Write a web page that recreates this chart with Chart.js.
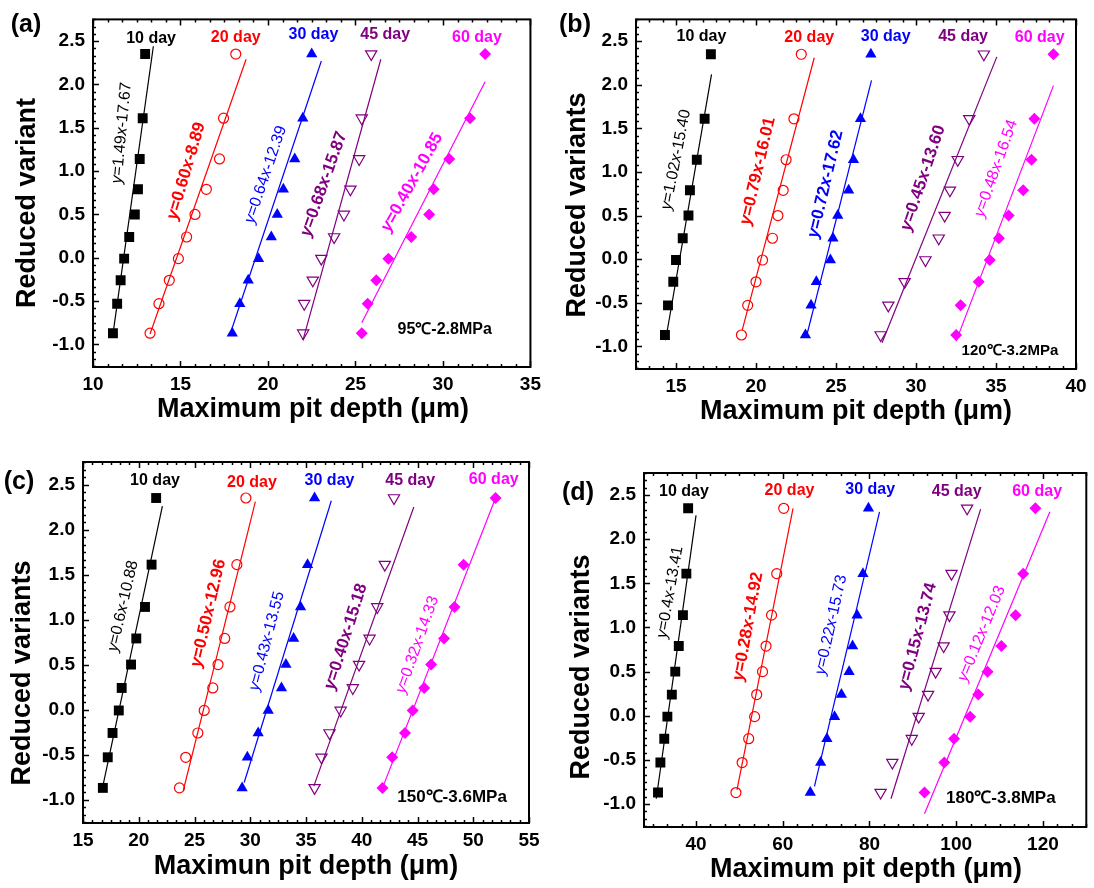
<!DOCTYPE html>
<html><head><meta charset="utf-8">
<script src="https://cdn.jsdelivr.net/npm/chart.js@4"></script>
<style>
body{margin:0;background:#fff;width:1094px;height:888px;position:relative;overflow:hidden}
canvas{position:absolute}
</style></head>
<body>
<canvas id="ca" width="547" height="440" style="left:0;top:0"></canvas>
<canvas id="cb" width="547" height="440" style="left:547px;top:0"></canvas>
<canvas id="cc" width="547" height="448" style="left:0;top:440px"></canvas>
<canvas id="cd" width="547" height="448" style="left:547px;top:440px"></canvas>
<script>
// ---------- shared data ----------
const reducedVariate = [-0.87, -0.53, -0.26, -0.01, 0.24, 0.50, 0.79, 1.14, 1.61, 2.35];
const dayLabels = ['10 day', '20 day', '30 day', '45 day', '60 day'];
const yTickValues = [-1.0, -0.5, 0.0, 0.5, 1.0, 1.5, 2.0, 2.5];

// ---------- (a) 95℃-2.8MPa ----------
const a_xTicks = [10, 15, 20, 25, 30, 35];
const a_d10 = [11.14, 11.38, 11.58, 11.78, 12.07, 12.39, 12.57, 12.67, 12.84, 12.98];
const a_d20 = [13.26, 13.77, 14.36, 14.88, 15.35, 15.83, 16.48, 17.23, 17.46, 18.16];
const a_d30 = [17.96, 18.39, 18.87, 19.46, 20.19, 20.53, 20.88, 21.53, 21.99, 22.50];
const a_d45 = [22.01, 22.07, 22.56, 23.05, 23.78, 24.34, 24.71, 25.21, 25.36, 25.90];
const a_d60 = [25.36, 25.70, 26.19, 26.88, 28.19, 29.21, 29.47, 30.36, 31.55, 32.41];
const a_fitX = [[11.14, 13.45], [13.26, 18.75], [17.92, 23.05], [22.00, 26.45], [25.36, 32.41]];
const a_fitY = [[-0.88, 2.44], [-0.88, 2.29], [-0.83, 2.27], [-0.95, 2.29], [-0.75, 2.03]];
const a_equations = ['y=1.49x-17.67', 'y=0.60x-8.89', 'y=0.64x-12.39', 'y=0.68x-15.87', 'y=0.40x-10.85'];

// ---------- (b) 120℃-3.2MPa ----------
const b_xTicks = [15, 20, 25, 30, 35, 40];
const b_d10 = [14.31, 14.50, 14.83, 15.00, 15.42, 15.78, 15.87, 16.30, 16.79, 17.18];
const b_d20 = [19.09, 19.48, 20.00, 20.41, 21.03, 21.37, 21.70, 21.88, 22.37, 22.83];
const b_d30 = [23.09, 23.44, 23.77, 24.65, 24.81, 25.11, 25.79, 26.09, 26.53, 27.18];
const b_d45 = [27.79, 28.27, 29.29, 30.59, 31.42, 31.79, 32.12, 32.61, 33.33, 34.24];
const b_d60 = [32.51, 32.79, 33.92, 34.61, 35.18, 35.79, 36.70, 37.22, 37.40, 38.59];
const b_fitX = [[14.35, 17.22], [19.13, 23.64], [23.15, 27.22], [27.88, 35.05], [32.51, 38.59]];
const b_fitY = [[-0.93, 2.12], [-0.82, 2.31], [-0.89, 2.05], [-0.96, 2.32], [-0.94, 1.99]];
const b_equations = ['y=1.02x-15.40', 'y=0.79x-16.01', 'y=0.72x-17.62', 'y=0.45x-13.60', 'y=0.48x-16.54'];

// ---------- (c) 150℃-3.6MPa ----------
const c_xTicks = [15, 20, 25, 30, 35, 40, 45, 50, 55];
const c_d10 = [16.78, 17.22, 17.65, 18.21, 18.47, 19.31, 19.78, 20.56, 21.15, 21.56];
const c_d20 = [23.65, 24.21, 25.30, 25.87, 26.64, 27.11, 27.71, 28.18, 28.80, 29.61];
const c_d30 = [29.27, 29.74, 30.71, 31.61, 32.80, 33.20, 33.89, 34.51, 35.14, 35.77];
const c_d45 = [35.77, 36.39, 37.11, 38.11, 39.20, 39.76, 40.70, 41.39, 42.07, 42.89];
const c_d60 = [41.86, 42.73, 43.88, 44.57, 45.60, 46.22, 47.38, 48.32, 49.13, 52.00];
const c_fitX = [[16.78, 22.12], [23.99, 30.46], [29.46, 37.27], [35.70, 44.67], [41.86, 52.00]];
const c_fitY = [[-0.85, 2.26], [-0.90, 2.31], [-0.81, 2.32], [-0.85, 2.25], [-0.87, 2.35]];
const c_equations = ['y=0.6x-10.88', 'y=0.50x-12.96', 'y=0.43x-13.55', 'y=0.40x-15.18', 'y=0.32x-14.33'];

// ---------- (d) 180℃-3.8MPa ----------
const d_xTicks = [40, 60, 80, 100, 120];
const d_d10 = [31.23, 31.78, 32.67, 33.39, 34.42, 35.21, 36.02, 36.98, 37.77, 38.18];
const d_d20 = [49.20, 50.63, 52.14, 53.51, 53.99, 55.33, 56.14, 57.41, 58.61, 60.22];
const d_d30 = [66.35, 68.74, 70.18, 71.95, 73.53, 75.30, 76.10, 77.13, 78.49, 79.76];
const d_d45 = [82.56, 85.27, 89.75, 91.35, 93.51, 95.26, 97.10, 98.44, 98.92, 102.51];
const d_d60 = [92.69, 97.25, 99.50, 103.23, 105.08, 107.23, 110.42, 113.70, 115.45, 118.25];
const d_fitX = [[30.83, 40.00], [49.44, 62.37], [67.31, 82.32], [84.96, 105.63], [92.69, 121.60]];
const d_fitY = [[-0.94, 2.27], [-0.84, 2.35], [-0.80, 2.31], [-0.94, 2.34], [-1.11, 2.31]];
const d_equations = ['y=0.4x-13.41', 'y=0.28x-14.92', 'y=0.22x-15.73', 'y=0.15x-13.74', 'y=0.12x-12.03'];

// ---------- styles ----------
const FONT = '"Liberation Sans", Arial, Helvetica, sans-serif';
const colors = ['#000000', '#ff0000', '#0000ff', '#800080', '#ff00ff'];
const markerStyles = [
  {pointStyle: 'rect', radius: 7, fill: true, rotation: 0},
  {pointStyle: 'circle', radius: 5, fill: false, rotation: 0},
  {pointStyle: 'triangle', radius: 6.5, fill: true, rotation: 0},
  {pointStyle: 'triangle', radius: 6.5, fill: false, rotation: 180},
  {pointStyle: 'rectRot', radius: 6, fill: true, rotation: 0}
];

// ---------- layout (positions / text placement) ----------
const panels = [
  {canvas: 'ca', tag: '(a)', xMin: 10, xMax: 35, xTicks: a_xTicks,
   depths: [a_d10, a_d20, a_d30, a_d45, a_d60], fitX: a_fitX, fitY: a_fitY, eqs: a_equations,
   cond: '95℃-2.8MPa', yTitle: 'Reduced variant', xTitle: 'Maximum pit depth (μm)',
   area: {left: 93, top: 5, right: 14, bottom: 73},
   tagPos: [26, 25], yTitlePos: [28, 203], xTitlePos: [313, 410],
   labelPos: [[13.32, 2.53], [18.16, 2.54], [22.6, 2.57], [26.7, 2.57], [31.94, 2.54]],
   eqPos: [[11.64, 1.44], [15.33, 1.0], [19.87, 0.96], [23.19, 0.85], [28.23, 0.87]],
   eqAngle: [-84.6, -73.5, -71.1, -70.3, -60.9], eqBold: [0, 1, 0, 1, 1],
   condPos: [30.1, -0.83], condSize: 16},
  {canvas: 'cb', tag: '(b)', xMin: 12.5, xMax: 40, xTicks: b_xTicks,
   depths: [b_d10, b_d20, b_d30, b_d45, b_d60], fitX: b_fitX, fitY: b_fitY, eqs: b_equations,
   cond: '120℃-3.2MPa', yTitle: 'Reduced variants', xTitle: 'Maximum pit depth (μm)',
   area: {left: 89, top: 7, right: 18, bottom: 71},
   tagPos: [28, 25], yTitlePos: [31, 205], xTitlePos: [309, 412],
   labelPos: [[16.59, 2.555], [23.33, 2.54], [28.11, 2.555], [32.94, 2.555], [37.73, 2.54]],
   eqPos: [[15.0, 1.14], [20.11, 1.01], [24.35, 0.86], [30.44, 0.93], [35.0, 1.04]],
   eqAngle: [-78.9, -76.8, -76.8, -71.4, -70.5], eqBold: [0, 1, 1, 1, 0],
   condPos: [35.87, -1.055], condSize: 15},
  {canvas: 'cc', tag: '(c)', xMin: 15, xMax: 55, xTicks: c_xTicks,
   depths: [c_d10, c_d20, c_d30, c_d45, c_d60], fitX: c_fitX, fitY: c_fitY, eqs: c_equations,
   cond: '150℃-3.6MPa', yTitle: 'Reduced variants', xTitle: 'Maximun pit depth (μm)',
   area: {left: 83, top: 22, right: 18, bottom: 65},
   tagPos: [19, 42], yTitlePos: [23, 233], xTitlePos: [306, 427],
   labelPos: [[21.46, 2.54], [30.15, 2.52], [37.11, 2.54], [44.35, 2.54], [51.84, 2.555]],
   eqPos: [[18.59, 1.15], [26.24, 1.07], [31.49, 0.76], [38.58, 0.81], [44.98, 0.72]],
   eqAngle: [-77, -77, -75.4, -72.5, -70.5], eqBold: [0, 1, 0, 1, 0],
   condPos: [48.1, -0.98], condSize: 17},
  {canvas: 'cd', tag: '(d)', xMin: 28, xMax: 130, xTicks: d_xTicks,
   depths: [d_d10, d_d20, d_d30, d_d45, d_d60], fitX: d_fitX, fitY: d_fitY, eqs: d_equations,
   cond: '180℃-3.8MPa', yTitle: 'Reduced variants', xTitle: 'Maximum pit depth (μm)',
   area: {left: 97, top: 33, right: 6, bottom: 61},
   tagPos: [31, 53], yTitlePos: [35, 227], xTitlePos: [319, 430],
   labelPos: [[37.22, 2.54], [61.56, 2.55], [80.17, 2.56], [100.12, 2.54], [118.66, 2.54]],
   eqPos: [[34.0, 1.4], [51.98, 1.01], [71.14, 1.03], [91.11, 0.9], [105.87, 0.93]],
   eqAngle: [-79.8, -79.7, -77.5, -75.2, -67.5], eqBold: [0, 1, 0, 1, 0],
   condPos: [110.28, -0.94], condSize: 17}
];

function drawEquation(ctx, text, cx, cy, angleDeg, bold, color) {
  const size = bold ? 17 : 16;
  const segs = [];
  for (const ch of text) {
    const it = (ch === 'x' || ch === 'y');
    if (segs.length && segs[segs.length - 1].it === it) segs[segs.length - 1].t += ch;
    else segs.push({t: ch, it});
  }
  const fontOf = s => `${s.it ? 'italic ' : ''}${bold ? 'bold ' : ''}${size}px ${FONT}`;
  let total = 0;
  segs.forEach(s => { ctx.font = fontOf(s); s.w = ctx.measureText(s.t).width; total += s.w; });
  ctx.save();
  ctx.translate(cx, cy);
  ctx.rotate(angleDeg * Math.PI / 180);
  ctx.fillStyle = color;
  ctx.textBaseline = 'middle';
  ctx.textAlign = 'left';
  let x = -total / 2;
  segs.forEach(s => { ctx.font = fontOf(s); ctx.fillText(s.t, x, 0); x += s.w; });
  ctx.restore();
}

const decorPlugin = {
  id: 'decor',
  afterDraw(chart) {
    const P = chart.options.plugins.decor.panel;
    const {ctx, chartArea: ca} = chart;
    const xs = chart.scales.x, ys = chart.scales.y;
    ctx.save();
    // frame
    ctx.strokeStyle = '#000';
    ctx.lineWidth = 2;
    ctx.strokeRect(ca.left, ca.top, ca.right - ca.left, ca.bottom - ca.top);
    // ticks (inward), 5 minor between majors
    ctx.lineWidth = 1.5;
    const xStep = P.xTicks[1] - P.xTicks[0], xMinor = xStep / 6;
    const x0 = P.xTicks[0];
    for (let i = Math.ceil((P.xMin - x0) / xMinor - 1e-6); x0 + i * xMinor <= P.xMax + 1e-6; i++) {
      const v = x0 + i * xMinor;
      const px = Math.round(xs.getPixelForValue(v)) + 0.5;
      const len = (i % 6 === 0) ? 6 : 3;
      ctx.beginPath();
      ctx.moveTo(px, ca.bottom); ctx.lineTo(px, ca.bottom - len);
      ctx.moveTo(px, ca.top); ctx.lineTo(px, ca.top + len);
      ctx.stroke();
    }
    const yStep = 0.5, yMinor = yStep / 6, y0 = yTickValues[0];
    for (let i = Math.ceil((ys.min - y0) / yMinor - 1e-6); y0 + i * yMinor <= ys.max + 1e-6; i++) {
      const v = y0 + i * yMinor;
      const py = Math.round(ys.getPixelForValue(v)) + 0.5;
      const len = (i % 6 === 0) ? 6 : 3;
      ctx.beginPath();
      ctx.moveTo(ca.left, py); ctx.lineTo(ca.left + len, py);
      ctx.stroke();
    }
    // series labels
    ctx.textAlign = 'center';
    ctx.textBaseline = 'middle';
    ctx.font = `bold 16px ${FONT}`;
    dayLabels.forEach((t, k) => {
      ctx.fillStyle = colors[k];
      ctx.fillText(t, xs.getPixelForValue(P.labelPos[k][0]), ys.getPixelForValue(P.labelPos[k][1]));
    });
    // equations
    P.eqs.forEach((t, k) => {
      drawEquation(ctx, t, xs.getPixelForValue(P.eqPos[k][0]), ys.getPixelForValue(P.eqPos[k][1]),
        P.eqAngle[k], P.eqBold[k], colors[k]);
    });
    // condition
    ctx.fillStyle = '#000';
    ctx.font = `bold ${P.condSize}px ${FONT}`;
    ctx.fillText(P.cond, xs.getPixelForValue(P.condPos[0]), ys.getPixelForValue(P.condPos[1]));
    // panel tag
    ctx.font = `bold 25px ${FONT}`;
    ctx.fillText(P.tag, P.tagPos[0], P.tagPos[1]);
    // axis titles
    ctx.font = `bold 27px ${FONT}`;
    ctx.fillText(P.xTitle, P.xTitlePos[0], P.xTitlePos[1]);
    ctx.save();
    ctx.translate(P.yTitlePos[0], P.yTitlePos[1]);
    ctx.rotate(-Math.PI / 2);
    ctx.fillText(P.yTitle, 0, 0);
    ctx.restore();
    ctx.restore();
  }
};

panels.forEach(P => {
  const datasets = [];
  P.depths.forEach((arr, k) => {
    const m = markerStyles[k];
    datasets.push({
      data: arr.map((v, i) => ({x: v, y: reducedVariate[i]})),
      showLine: false,
      pointStyle: m.pointStyle,
      pointRadius: m.radius,
      pointRotation: m.rotation,
      pointBackgroundColor: m.fill ? colors[k] : 'rgba(0,0,0,0)',
      pointBorderColor: colors[k],
      pointBorderWidth: m.fill ? 0 : 1.2
    });
  });
  P.fitX.forEach((fx, k) => {
    datasets.push({
      data: fx.map((v, i) => ({x: v, y: P.fitY[k][i]})),
      showLine: true,
      borderColor: colors[k],
      borderWidth: 1.2,
      pointRadius: 0
    });
  });
  const tickFont = {family: FONT, size: 19, weight: 'bold'};
  new Chart(document.getElementById(P.canvas), {
    type: 'scatter',
    data: {datasets},
    options: {
      responsive: false,
      animation: false,
      events: [],
      layout: {padding: {left: 0, top: P.area.top, right: P.area.right, bottom: 0}},
      plugins: {legend: {display: false}, tooltip: {enabled: false}, decor: {panel: P}},
      scales: {
        x: {
          type: 'linear', min: P.xMin, max: P.xMax,
          grid: {display: false, drawTicks: false}, border: {display: false},
          ticks: {font: tickFont, color: '#000', padding: 6, autoSkip: false, maxRotation: 0,
                  callback: v => String(v)},
          afterBuildTicks: s => { s.ticks = P.xTicks.map(v => ({value: v})); },
          afterFit: s => { s.height = P.area.bottom; }
        },
        y: {
          type: 'linear', min: -1.26, max: 2.75,
          grid: {display: false, drawTicks: false}, border: {display: false},
          ticks: {font: tickFont, color: '#000', padding: 8, autoSkip: false,
                  callback: v => Number(v).toFixed(1)},
          afterBuildTicks: s => { s.ticks = yTickValues.map(v => ({value: v})); },
          afterFit: s => { s.width = P.area.left; }
        }
      }
    },
    plugins: [decorPlugin]
  });
});
</script>
</body></html>
